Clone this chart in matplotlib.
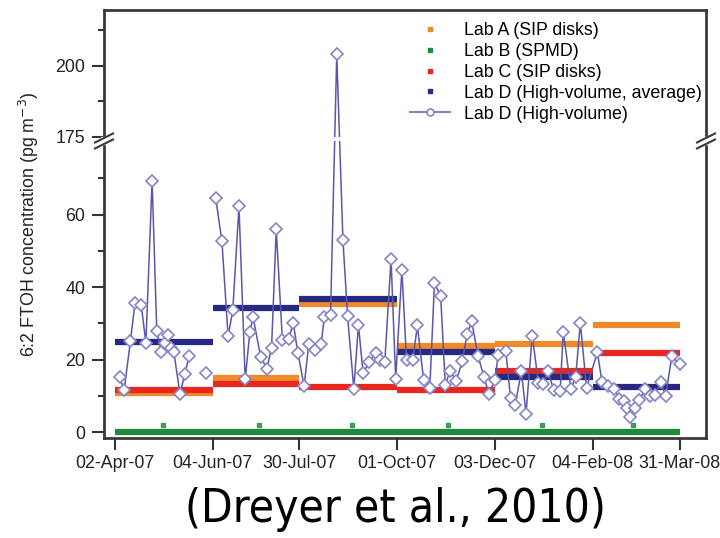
import numpy as np
import pandas as pd
import matplotlib
matplotlib.use('Agg')
import matplotlib.pyplot as plt
import matplotlib.dates as mdates
from matplotlib.lines import Line2D

plt.rcParams['font.family'] = ['Liberation Sans', 'DejaVu Sans']

# periods used by the averaged labs
period_edges = ['2007-04-02', '2007-06-04', '2007-07-30', '2007-10-01',
                '2007-12-03', '2008-02-04', '2008-03-31']
lab_a = [10.9, 14.9, 35.3, 23.7, 24.2, 29.5]
lab_b = [0.0, 0.0, 0.0, 0.0, 0.0, 0.0]
lab_c = [11.7, 13.2, 12.3, 11.6, 16.9, 21.7]
lab_d_avg = [24.8, 34.1, 36.8, 22.1, 15.2, 12.5]

# single Lab B points near the middle of each period
lab_b_dates = ['2007-05-03', '2007-07-04', '2007-09-02',
               '2007-11-03', '2008-01-02', '2008-03-01']
lab_b_pts = [1.9, 1.9, 1.9, 1.9, 1.9, 1.9]

# Lab D high-volume samples (nan = gap in the line)
lab_d_dates = [
    '2007-04-05', '2007-04-08', '2007-04-12', '2007-04-15', '2007-04-19',
    '2007-04-22', '2007-04-26', '2007-04-29', '2007-05-02', '2007-05-04',
    '2007-05-06', '2007-05-08', '2007-05-10', '2007-05-14', '2007-05-17',
    '2007-05-20', '2007-05-25', '2007-05-31', '2007-06-03',
    '2007-06-06', '2007-06-10', '2007-06-14', '2007-06-17', '2007-06-21',
    '2007-06-25', '2007-06-28', '2007-06-30', '2007-07-05', '2007-07-09',
    '2007-07-12', '2007-07-15', '2007-07-19', '2007-07-23', '2007-07-26',
    '2007-07-29',
    '2007-08-02', '2007-08-05', '2007-08-09', '2007-08-13', '2007-08-15',
    '2007-08-19', '2007-08-23', '2007-08-27', '2007-08-30', '2007-09-03',
    '2007-09-06', '2007-09-09', '2007-09-13', '2007-09-17', '2007-09-20',
    '2007-09-23', '2007-09-27', '2007-09-30', '2007-10-04',
    '2007-10-07', '2007-10-11', '2007-10-14', '2007-10-18', '2007-10-22',
    '2007-10-25', '2007-10-29', '2007-11-01', '2007-11-04', '2007-11-08',
    '2007-11-12', '2007-11-15', '2007-11-18', '2007-11-22', '2007-11-26',
    '2007-11-29', '2007-12-03',
    '2007-12-05', '2007-12-10', '2007-12-13', '2007-12-16', '2007-12-20',
    '2007-12-23', '2007-12-27', '2007-12-31', '2008-01-03', '2008-01-06',
    '2008-01-10', '2008-01-14', '2008-01-16', '2008-01-21', '2008-01-24',
    '2008-01-27', '2008-01-31',
    '2008-02-07', '2008-02-10', '2008-02-14', '2008-02-18', '2008-02-21',
    '2008-02-24', '2008-02-26', '2008-02-28', '2008-03-02', '2008-03-05',
    '2008-03-09', '2008-03-12', '2008-03-15', '2008-03-19', '2008-03-22',
    '2008-03-26', '2008-03-31']
lab_d_vals = [
    15.2, 11.6, 25.0, 35.6, 35.0,
    24.6, 69.4, 28.0, 22.0, 24.5,
    26.7, 23.3, 22.2, 10.4, 16.0,
    21.0, np.nan, 16.2, np.nan,
    64.6, 52.6, 26.4, 33.6, 62.3,
    14.5, 27.6, 31.8, 20.7, 17.5,
    23.3, 55.9, 25.3, 25.6, 30.1,
    21.7,
    12.7, 24.4, 22.6, 24.4, 31.8,
    32.2, 204.0, 52.9, 31.9, 12.0,
    29.5, 16.2, 19.4, 21.7, 19.8,
    19.4, 47.8, 14.5, 44.8,
    19.8, 19.8, 29.4, 14.3, 12.2,
    41.1, 37.4, 12.9, 16.9, 14.1,
    19.6, 27.0, 30.5, 21.1, 15.1,
    10.5, 14.3,
    21.2, 22.3, 9.5, 7.4, 16.8,
    5.1, 26.6, 13.6, 13.3, 16.8,
    11.5, 11.3, 27.7, 11.8, 15.2,
    30.1, 12.2,
    22.0, 13.7, 12.8, 11.8, 9.0,
    8.5, 6.5, 4.2, 6.5, 8.9,
    11.8, 10.0, 10.3, 13.8, 9.9,
    21.0, 18.7]

tick_dates = ['2007-04-02', '2007-06-04', '2007-07-30', '2007-10-01',
              '2007-12-03', '2008-02-04', '2008-03-31']

c_a = '#f0892a'
c_b = '#1f8a3c'
c_c = '#e8281f'
c_d = '#272882'
c_line = '#5858aa'
c_mark = '#8585c8'

# broken y axis: 0..B linear, gap, then 175.. compressed
B, G, U, R = 80.3, 1.2, 175.0, 0.782


def fwd(y):
    y = np.asarray(y, dtype=float)
    return np.where(y <= B, y,
                    np.where(y >= U, B + G + (y - U) * R,
                             B + (y - B) * G / (U - B)))


def inv(v):
    v = np.asarray(v, dtype=float)
    return np.where(v <= B, v,
                    np.where(v >= B + G, U + (v - B - G) / R,
                             B + (v - B) * (U - B) / G))


fig = plt.figure(figsize=(7.2, 5.38), dpi=100)
ax = fig.add_axes([104 / 720, 1 - 438 / 538, 602 / 720, 428 / 538])
ax.set_yscale('function', functions=(fwd, inv))

edges = pd.to_datetime(period_edges)
starts, ends = edges[:-1], edges[1:]
lw_bar = 4.5
ax.hlines(lab_a, starts, ends, colors=c_a, lw=lw_bar, zorder=2)
ax.hlines(lab_b, starts, ends, colors=c_b, lw=lw_bar, zorder=2)
ax.plot(pd.to_datetime(lab_b_dates), lab_b_pts, ls='none', marker='s', ms=2.2,
        color=c_b, alpha=0.8, zorder=2)
ax.hlines(lab_c, starts, ends, colors=c_c, lw=lw_bar, zorder=2.1)
ax.hlines(lab_d_avg, starts, ends, colors=c_d, lw=lw_bar, zorder=2.2)

ax.plot(pd.to_datetime(lab_d_dates), lab_d_vals, color=c_line, lw=1.1,
        marker='D', ms=6.3, mfc='white', mec=c_mark, mew=1.2, zorder=3)

# white gap where the spike crosses the break
ax.axhspan(80.6, 174.5, color='white', zorder=3.5, lw=0)

ax.set_xlim(pd.Timestamp('2007-03-26'), pd.Timestamp('2008-04-17'))
ax.set_ylim(-1.65, 219.7)

ax.set_xticks(pd.to_datetime(tick_dates))
ax.xaxis.set_major_formatter(mdates.DateFormatter('%d-%b-%y'))
ax.set_yticks([0, 20, 40, 60, 175, 200])
ax.set_yticks([10, 30, 50, 70, 187.5, 212.5], minor=True)
ax.yaxis.set_major_formatter(plt.FuncFormatter(lambda v, p: f'{v:g}'))
ax.xaxis.set_minor_locator(plt.NullLocator())

fs = 12.75
ax.tick_params(axis='both', which='major', length=8.5, width=1.5,
               labelsize=fs, color='#333333', labelcolor='#222222', pad=4)
ax.tick_params(axis='y', which='minor', length=4.5, width=1.5, color='#333333')
ax.tick_params(axis='y', pad=5)
for s in ax.spines.values():
    s.set_linewidth(2.0)
    s.set_color('#3a3a3a')

ax.set_ylabel('6:2 FTOH concentration (pg m$^{-3}$)', fontsize=fs,
              color='#222222', labelpad=10)

# break marks on both spines
fig.canvas.draw()
yb = ax.get_yaxis_transform().transform((0, B + G / 2))[1]
for xa in (0, 1):
    xd = ax.transAxes.transform((xa, 0))[0]
    p0 = fig.transFigure.inverted()
    cover = plt.Polygon(p0.transform([(xd - 3, yb - 3.5), (xd + 3, yb - 3.5),
                                      (xd + 3, yb + 3.5), (xd - 3, yb + 3.5)]),
                        closed=True, color='white', transform=fig.transFigure,
                        zorder=10)
    fig.add_artist(cover)
    for off in (-3, 3):
        pts = p0.transform([(xd - 9, yb + off - 4.5), (xd + 9, yb + off + 4.5)])
        fig.add_artist(Line2D(pts[:, 0], pts[:, 1], color='#3a3a3a', lw=1.5,
                              transform=fig.transFigure, zorder=11))

handles = [
    Line2D([], [], ls='none', marker='s', ms=3.5, color=c_a),
    Line2D([], [], ls='none', marker='s', ms=3.5, color=c_b),
    Line2D([], [], ls='none', marker='s', ms=3.5, color=c_c),
    Line2D([], [], ls='none', marker='s', ms=3.5, color=c_d),
    Line2D([], [], color=c_mark, lw=1.5, marker='o', ms=5, mfc='white',
           mec=c_mark, mew=1.2),
]
labels = ['Lab A (SIP disks)', 'Lab B (SPMD)', 'Lab C (SIP disks)',
          'Lab D (High-volume, average)', 'Lab D (High-volume)']
ax.legend(handles, labels, loc='upper left',
          bbox_to_anchor=(410 / 720, 1 - 22 / 538),
          bbox_transform=fig.transFigure, frameon=False, fontsize=fs,
          borderpad=0, borderaxespad=0, handlelength=2.25, handletextpad=0.8,
          labelspacing=0.22)

fig.text(395 / 720, 1 - 510 / 538, '(Dreyer et al., 2010)', ha='center',
         va='center', fontsize=33, family='DejaVu Sans',
         fontstretch='condensed', color='black')

fig.savefig('out.png', dpi=100)
